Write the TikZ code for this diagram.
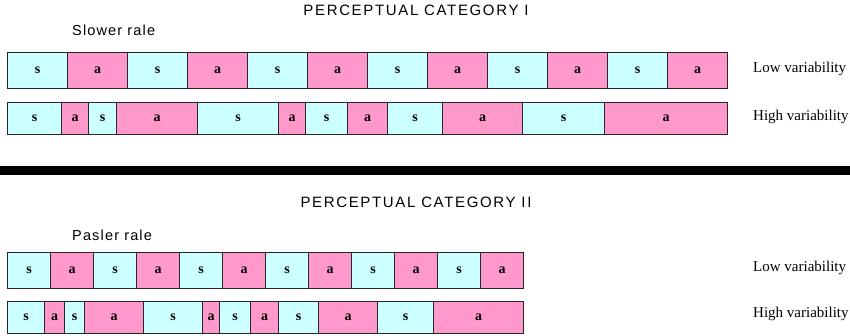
\documentclass[tikz,border=0pt]{standalone}
\usepackage{fontspec}
\setmainfont{Liberation Serif}
\newfontfamily\titlefont[LetterSpace=11]{Liberation Sans}
\newfontfamily\subfont[LetterSpace=8]{Liberation Sans}
\definecolor{cyanc}{HTML}{CCFFFF}
\definecolor{pinkc}{HTML}{FF99CC}
\newcommand\cellrow[4]{%
  \foreach \xa/\xb/\ty [count=\i] in {#4} {
    \node[\ty cell, minimum width={(\xb-\xa)*1pt}, minimum height={(#3-#2)*1pt}] (#1c\i) at (\xa,#2) {\ty};
  }}
\begin{document}
\begin{tikzpicture}[x=1pt,y=-1pt,
  cell/.style={draw=black!85, line width=1.1pt, inner sep=0pt, anchor=north west,
               font=\bfseries\fontsize{14}{14}\selectfont},
  scell/.style={cell, fill=cyanc},
  acell/.style={cell, fill=pinkc},
  title/.style={font=\titlefont\fontsize{15}{15}\selectfont, inner sep=0pt},
  sub/.style={font=\subfont\fontsize{14.5}{14.5}\selectfont, inner sep=0pt, anchor=west},
  lab/.style={anchor=west, inner sep=0pt, font=\fontsize{15}{15}\selectfont}]
\useasboundingbox (0,0) rectangle (850,336);
% Category I
\node[title] (t1) at (416,10) {PERCEPTUAL CATEGORY I};
\node[sub] (s1) at (72,30) {Slower rale};
\cellrow{r1}{52}{88}{7/67/s,67/127/a,127/187/s,187/247/a,247/307/s,307/367/a,367/427/s,427/487/a,487/547/s,547/607/a,607/667/s,667/727/a}
\cellrow{r2}{102}{134}{7/61/s,61/88/a,88/116/s,116/197/a,197/278/s,278/305/a,305/347/s,347/387/a,387/442/s,442/522/a,522/604/s,604/727/a}
\node[lab] (l1) at (753,69) {Low variability};
\node[lab] (l2) at (753,117) {High variability};
% separator
\fill[black] (0,166) rectangle (850,175);
% Category II
\node[title] (t2) at (416,202) {PERCEPTUAL CATEGORY II};
\node[sub] (s2) at (72,235) {Pasler rale};
\cellrow{r3}{252}{288}{7/50/s,50/93/a,93/136/s,136/179/a,179/222/s,222/265/a,265/308/s,308/351/a,351/394/s,394/437/a,437/480/s,480/523/a}
\cellrow{r4}{301}{333}{7/44/s,44/64/a,64/84/s,84/143/a,143/202/s,202/219/a,219/250/s,250/278/a,278/318/s,318/377/a,377/433/s,433/523/a}
\node[lab] (l3) at (753,268) {Low variability};
\node[lab] (l4) at (753,314) {High variability};
\end{tikzpicture}
\end{document}
